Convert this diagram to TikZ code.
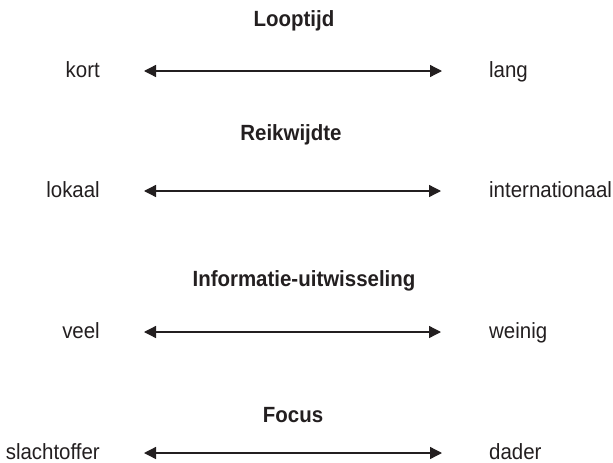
\documentclass[tikz,border=0pt]{standalone}
\usepackage{fontspec}
\setmainfont[FakeStretch=0.93]{Liberation Sans}
\usetikzlibrary{arrows.meta}
\definecolor{ink}{HTML}{231F20}
\begin{document}
\begin{tikzpicture}[x=1pt,y=-1pt,
  lbl/.style={inner sep=0pt,text=ink,font=\fontsize{22}{26}\selectfont},
  lefttxt/.style={lbl,anchor=base east},
  righttxt/.style={lbl,anchor=base west},
  ttl/.style={lbl,anchor=base,font=\fontsize{22}{26}\selectfont\bfseries},
  dbl/.style={draw=ink,line width=1.3pt,{Triangle[length=12pt,width=12pt]}-{Triangle[length=12pt,width=12pt]}}]
\useasboundingbox (0,0) rectangle (613,463);
% Row 1
\node[ttl] (t1) at (294,26) {Looptijd};
\node[lefttxt] (l1) at (100,77) {kort};
\node[righttxt] (r1) at (489,77) {lang};
\coordinate (a1) at (144,71);
\coordinate (b1) at (442,71);
\draw[dbl] (a1) -- (b1);
% Row 2
\node[ttl] (t2) at (291,140) {Reikwijdte};
\node[lefttxt] (l2) at (100,197) {lokaal};
\node[righttxt] (r2) at (489,197) {internationaal};
\coordinate (a2) at (144,191);
\coordinate (b2) at (441,191);
\draw[dbl] (a2) -- (b2);
% Row 3
\node[ttl] (t3) at (304,286) {Informatie-uitwisseling};
\node[lefttxt] (l3) at (100,338) {veel};
\node[righttxt] (r3) at (489,338) {weinig};
\coordinate (a3) at (144,332);
\coordinate (b3) at (441,332);
\draw[dbl] (a3) -- (b3);
% Row 4
\node[ttl] (t4) at (293,422) {Focus};
\node[lefttxt] (l4) at (100,459) {slachtoffer};
\node[righttxt] (r4) at (489,459) {dader};
\coordinate (a4) at (144,453);
\coordinate (b4) at (442,453);
\draw[dbl] (a4) -- (b4);
\end{tikzpicture}
\end{document}
